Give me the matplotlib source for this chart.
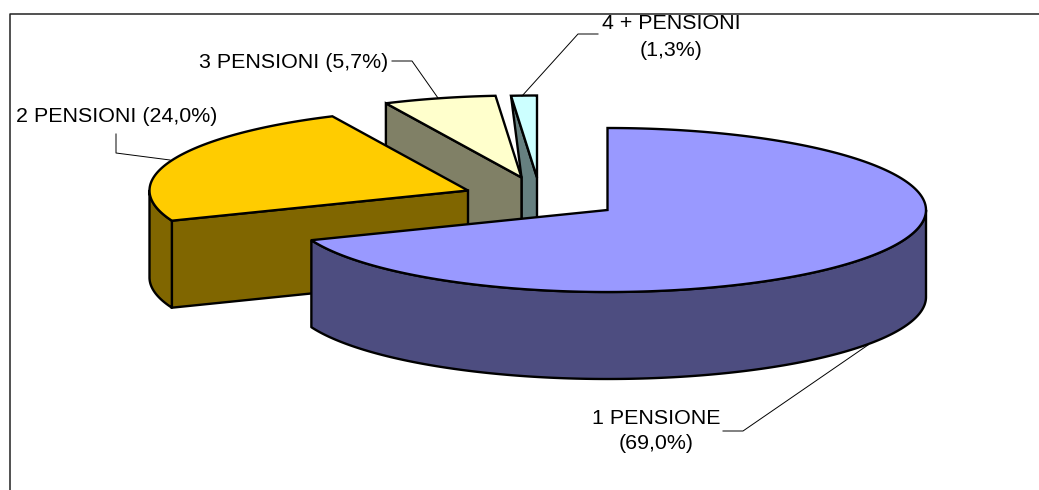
import numpy as np
import matplotlib
matplotlib.use("Agg")
import matplotlib.pyplot as plt
from matplotlib.patches import Polygon

plt.rcParams['font.family'] = ['Liberation Sans', 'DejaVu Sans']

labels = ['1 PENSIONE\n(69,0%)', '2 PENSIONI (24,0%)', '3 PENSIONI (5,7%)', '4 + PENSIONI\n(1,3%)']
values = [69.0, 24.0, 5.7, 1.3]
top_colors = ['#9999FF', '#FFCC00', '#FFFFCC', '#CCFFFF']
side_colors = ['#4D4D80', '#806600', '#808066', '#668080']

# pie layout in pixels
apex_x = [607.5, 468, 521.5, 537]
apex_y = [210, 190.5, 177.5, 177.5]
rx, ry = 318.5, 82
depth = 87
edge_lw = 1.7


# angle limits of each slice, clockwise from 12 o'clock
edges = np.radians(np.concatenate([[0], np.cumsum(values)]) * 3.6)


def rim(i, t0, t1, down=0):
    t = np.linspace(t0, t1, 200)
    return np.column_stack([apex_x[i] + rx * np.sin(t), apex_y[i] - ry * np.cos(t) + down])


def rim_wall(ax, i, t0, t1):
    pts = np.vstack([rim(i, t0, t1), rim(i, t1, t0, depth)])
    ax.add_patch(Polygon(pts, fc=side_colors[i], ec='black', lw=edge_lw, joinstyle='round'))


def flat_wall(ax, i, t):
    p = rim(i, t, t)[0]
    pts = [p, (apex_x[i], apex_y[i]), (apex_x[i], apex_y[i] + depth), (p[0], p[1] + depth)]
    ax.add_patch(Polygon(pts, fc=side_colors[i], ec='black', lw=edge_lw))


def top(ax, i):
    pts = np.vstack([[(apex_x[i], apex_y[i])], rim(i, edges[i], edges[i + 1])])
    ax.add_patch(Polygon(pts, fc=top_colors[i], ec='black', lw=edge_lw))


fig = plt.figure(figsize=(10.39, 4.9), dpi=100)
ax = fig.add_axes([0, 0, 1, 1])
ax.set_xlim(0, 1039)
ax.set_ylim(490, 0)
ax.axis('off')

# chart frame, open to the right and at the bottom
ax.plot([9.5, 9.5, 1039], [490, 14, 14], color='#222222', lw=1.1)

# leader lines
ax.plot([598, 578, 522], [34, 34, 96], color='black', lw=0.7)
ax.plot([392, 412, 438], [61, 61, 98], color='black', lw=0.7)
ax.plot([116, 116, 170], [134, 153, 160], color='black', lw=0.7)
ax.plot([723, 743, 868], [431, 431, 345], color='black', lw=0.7)

# slices go back to front
p4 = rim(3, edges[3], edges[3])[0]
ax.add_patch(Polygon([p4, (apex_x[2], apex_y[2]), (apex_x[2], apex_y[2] + depth),
                      (apex_x[3], apex_y[3] + depth), (apex_x[3], apex_y[3])],
                     fc=side_colors[3], ec='black', lw=edge_lw))
top(ax, 3)

flat_wall(ax, 2, edges[2])
top(ax, 2)

flat_wall(ax, 1, edges[1])
rim_wall(ax, 1, edges[1], np.radians(270))
top(ax, 1)

rim_wall(ax, 0, np.radians(90), edges[1])
top(ax, 0)

ax.text(656, 431, labels[0], ha='center', va='center', fontsize=15.4, linespacing=1.45, color='black')
ax.text(116.5, 116, labels[1], ha='center', va='center', fontsize=15.4, color='black')
ax.text(294, 62, labels[2], ha='center', va='center', fontsize=15.4, color='black')
ax.text(671, 37, labels[3], ha='center', va='center', fontsize=15.4, linespacing=1.56, color='black')

fig.savefig('out.png', dpi=100)
